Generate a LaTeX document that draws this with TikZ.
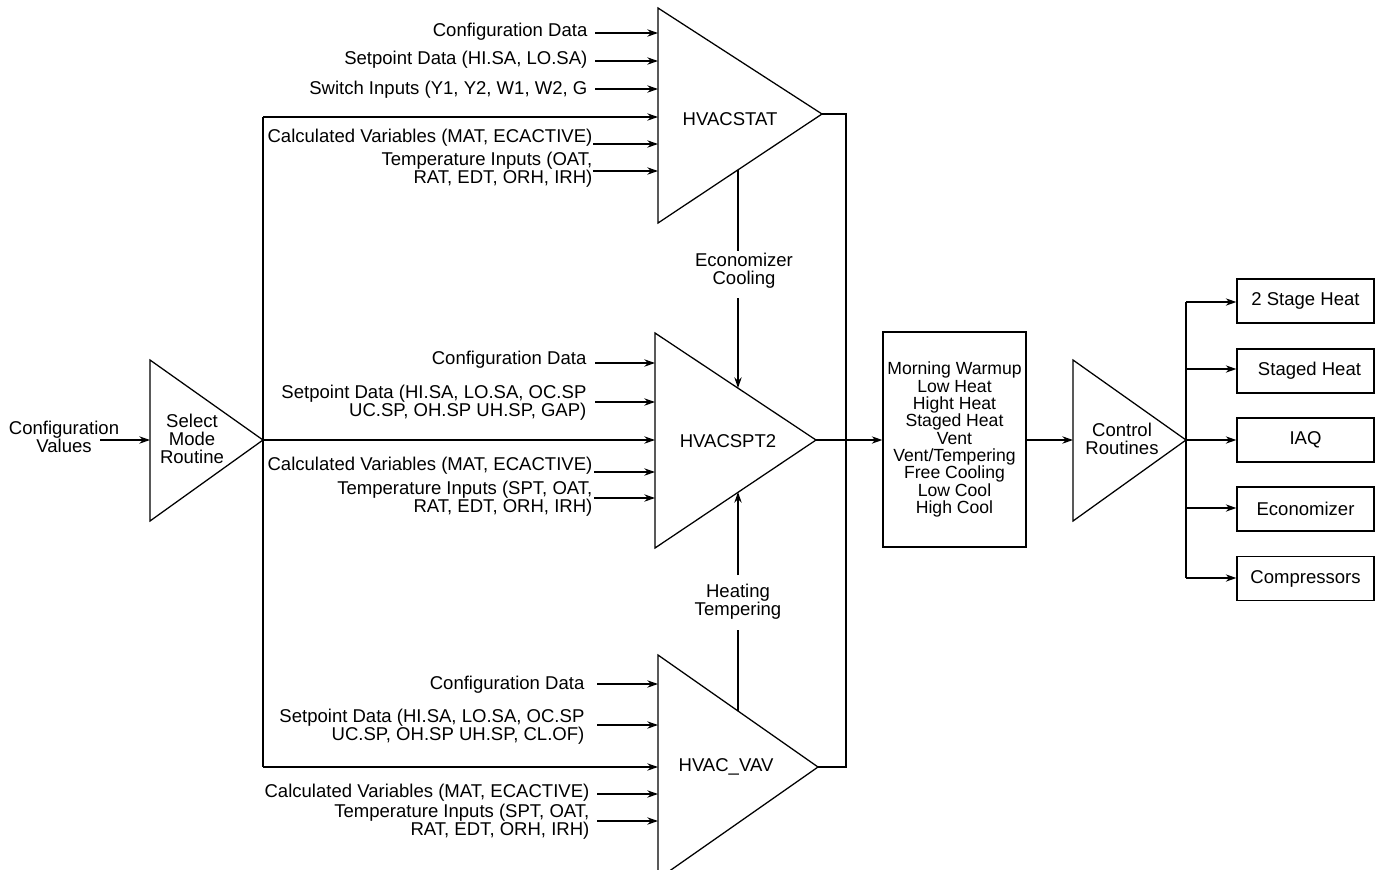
\documentclass[tikz,border=0pt]{standalone}
\usepackage{fontspec}
\setmainfont{Liberation Sans}
\usetikzlibrary{arrows.meta,calc}
\begin{document}
\begin{tikzpicture}[x=0.75pt,y=-0.75pt,
  line width=0.95pt,
  arr/.style={-{Stealth[length=8pt,width=5.5pt]}},
  lab/.style={inner sep=0pt,align=right,anchor=east,font=\fontsize{13.9}{13.3}\selectfont},
  ctext/.style={inner sep=0pt,align=center,font=\fontsize{13.9}{13.3}\selectfont},
  obox/.style={draw,inner sep=0pt,minimum width=102.75pt,minimum height=33pt,font=\fontsize{13.9}{13.3}\selectfont},
  mbox/.style={draw,inner sep=0pt,minimum width=107.25pt,minimum height=161.25pt,align=center,font=\fontsize{13.2}{13}\selectfont}]
\useasboundingbox (0,0) rectangle (1375,869);
\clip (0,0) rectangle (1375,869);

% ---------- triangles ----------
\coordinate (selA) at (150,360); \coordinate (selB) at (150,521); \coordinate (selC) at (263,440);
\coordinate (stA) at (658,8);    \coordinate (stB) at (658,223);  \coordinate (stC) at (822,114);
\coordinate (spA) at (655,333);  \coordinate (spB) at (655,548);  \coordinate (spC) at (816,440);
\coordinate (vvA) at (658,655);  \coordinate (vvB) at (658,879);  \coordinate (vvC) at (818,767);
\coordinate (crA) at (1073,360); \coordinate (crB) at (1073,521); \coordinate (crC) at (1186,440);
\draw (selA) -- (selB) -- (selC) -- cycle;
\draw (stA) -- (stB) -- (stC) -- cycle;
\draw (spA) -- (spB) -- (spC) -- cycle;
\draw (vvA) -- (vvB) -- (vvC) -- cycle;
\draw (crA) -- (crB) -- (crC) -- cycle;

\node[ctext] (sel) at (192,439) {Select\\Mode\\Routine};
\node[ctext] (st) at (730,119) {HVACSTAT};
\node[ctext] (sp) at (728,441) {HVACSPT2};
\node[ctext] (vv) at (726,767) {HVAC\_VAV};
\node[ctext] (cr) at (1122,439) {Control\\Routines};

% ---------- configuration values ----------
\node[ctext] (cv) at (64,437) {Configuration\\Values};
\coordinate (cvS) at (100,440);
\draw[arr] (cvS) -- (selA |- selC);

% ---------- main distribution ----------
\coordinate (m1) at (263,117);
\coordinate (m3) at (263,767);
\draw (m1) -- (m3);
\draw[arr] (m1) -- (658,117);
\draw[arr] (selC) -- (655,440);
\draw[arr] (m3) -- (658,767);

% ---------- HVACSTAT inputs ----------
\node[lab] (s1) at (588,32) {Configuration Data};
\node[lab] (s2) at (588,60) {Setpoint Data (HI.SA, LO.SA)};
\node[lab] (s3) at (588,90) {Switch Inputs (Y1, Y2, W1, W2, G};
\node[lab] (s4) at (593,138) {Calculated Variables (MAT, ECACTIVE)};
\node[lab] (s5) at (593,170) {Temperature Inputs (OAT,\\RAT, EDT, ORH, IRH)};
\draw[arr] (595,33) -- (658,33);
\draw[arr] (595,61) -- (658,61);
\draw[arr] (595,89) -- (658,89);
\draw[arr] (593,144) -- (658,144);
\draw[arr] (593,171) -- (658,171);

% ---------- HVACSPT2 inputs ----------
\node[lab] (p1) at (587,360) {Configuration Data};
\node[lab] (p2) at (587,403) {Setpoint Data (HI.SA, LO.SA, OC.SP\\UC.SP, OH.SP UH.SP, GAP)};
\node[lab] (p4) at (593,466) {Calculated Variables (MAT, ECACTIVE)};
\node[lab] (p5) at (593,499) {Temperature Inputs (SPT, OAT,\\RAT, EDT, ORH, IRH)};
\draw[arr] (595,363) -- (655,363);
\draw[arr] (595,402) -- (655,402);
\draw[arr] (594,472) -- (655,472);
\draw[arr] (594,498) -- (655,498);

% ---------- HVAC_VAV inputs ----------
\node[lab] (v1) at (585,685) {Configuration Data};
\node[lab] (v2) at (585,727) {Setpoint Data (HI.SA, LO.SA, OC.SP\\UC.SP, OH.SP UH.SP, CL.OF)};
\node[lab] (v4) at (590,793) {Calculated Variables (MAT, ECACTIVE)};
\node[lab] (v5) at (590,822) {Temperature Inputs (SPT, OAT,\\RAT, EDT, ORH, IRH)};
\draw[arr] (597,684) -- (658,684);
\draw[arr] (597,725) -- (658,725);
\draw[arr] (597,794) -- (658,794);
\draw[arr] (597,821) -- (658,821);

% ---------- economizer / heating ----------
\node[ctext] (eco) at (744,271) {Economizer\\Cooling};
\coordinate (ecoS) at (738,170);
\coordinate (ecoE) at (738,388);
\draw (ecoS) -- (738,251);
\draw[arr] (738,298) -- (ecoE);
\node[ctext] (heat) at (738,602) {Heating\\Tempering};
\coordinate (htS) at (738,711);
\coordinate (htE) at (738,492);
\draw (htS) -- (738,630);
\draw[arr] (738,575) -- (htE);

% ---------- outputs to modes box ----------
\node[mbox] (modes) at (954.5,439.5) {Morning Warmup\\Low Heat\\Hight Heat\\Staged Heat\\Vent\\Vent/Tempering\\Free Cooling\\Low Cool\\High Cool};
\draw (stC) -- (846,114) -- (846,767) -- (vvC);
\draw[arr] (spC) -- (modes.west |- spC);
\draw[arr] (modes.east |- crC) -- (crA |- crC);

% ---------- control outputs ----------
\node[obox] (o1) at (1305.5,301) {2 Stage Heat};
\node[obox] (o2) at (1305.5,371) {\hspace{6pt}Staged Heat};
\node[obox] (o3) at (1305.5,440) {IAQ};
\node[obox] (o4) at (1305.5,509) {Economizer};
\node[obox] (o5) at (1305.5,578.5) {Compressors};
\coordinate (bt) at (1186,302);
\coordinate (bb) at (1186,578);
\draw (bt) -- (bb);
\draw[arr] (bt) -- (o1.west |- bt);
\draw[arr] (1186,369) -- (o2.west |- 0,369);
\draw[arr] (crC) -- (o3.west);
\draw[arr] (1186,508) -- (o4.west |- 0,508);
\draw[arr] (bb) -- (o5.west |- bb);
\end{tikzpicture}
\end{document}
